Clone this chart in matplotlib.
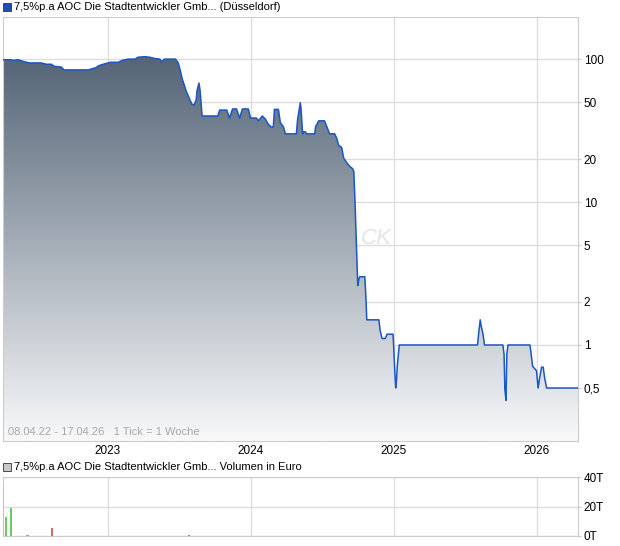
import matplotlib
matplotlib.use("Agg")
import matplotlib.pyplot as plt
import matplotlib.dates as mdates
import numpy as np
import pandas as pd
from matplotlib.colors import LinearSegmentedColormap
from matplotlib.patches import Rectangle
from matplotlib.ticker import FixedLocator, FixedFormatter, FuncFormatter

# price (weekly, Duesseldorf)
price_dates = [
    "2022-04-08", "2022-04-26", "2022-05-06", "2022-05-16", "2022-05-26", "2022-06-07",
    "2022-06-15", "2022-07-15", "2022-07-28", "2022-08-10", "2022-08-17", "2022-09-04",
    "2022-09-11", "2022-11-13", "2022-11-18", "2022-12-01", "2022-12-09", "2022-12-26",
    "2023-01-08", "2023-01-28", "2023-02-07", "2023-02-22", "2023-03-12", "2023-03-19",
    "2023-04-06", "2023-04-18", "2023-05-01", "2023-05-14", "2023-05-19", "2023-05-26",
    "2023-06-23", "2023-06-30", "2023-07-05", "2023-07-10", "2023-07-16", "2023-07-21",
    "2023-07-26", "2023-07-31", "2023-08-05", "2023-08-10", "2023-08-15", "2023-08-17",
    "2023-08-22", "2023-08-25", "2023-08-30", "2023-10-09", "2023-10-14", "2023-11-01",
    "2023-11-08", "2023-11-16", "2023-11-26", "2023-12-04", "2023-12-11", "2023-12-26",
    "2024-01-01", "2024-01-16", "2024-01-21", "2024-01-31", "2024-02-08", "2024-02-15",
    "2024-02-23", "2024-02-28", "2024-03-02", "2024-03-12", "2024-03-17", "2024-03-25",
    "2024-03-30", "2024-04-27", "2024-04-30", "2024-05-07", "2024-05-09", "2024-05-13",
    "2024-05-15", "2024-05-20", "2024-05-23", "2024-06-13", "2024-06-15", "2024-06-23",
    "2024-07-08", "2024-07-14", "2024-07-21", "2024-08-03", "2024-08-08", "2024-08-13",
    "2024-08-21", "2024-08-26", "2024-09-03", "2024-09-11", "2024-09-18", "2024-09-21",
    "2024-09-24", "2024-09-29", "2024-10-01", "2024-10-04", "2024-10-06", "2024-10-19",
    "2024-10-22", "2024-10-24", "2024-11-24", "2024-11-27", "2024-12-02", "2024-12-10",
    "2024-12-15", "2024-12-30", "2025-01-01", "2025-01-04", "2025-01-06", "2025-01-08",
    "2025-01-10", "2025-01-13", "2025-01-15", "2025-08-03", "2025-08-06", "2025-08-10",
    "2025-08-13", "2025-08-17", "2025-08-21", "2025-10-07", "2025-10-10", "2025-10-12",
    "2025-10-15", "2025-10-17", "2025-10-20", "2025-12-15", "2025-12-17", "2025-12-22",
    "2026-01-01", "2026-01-05", "2026-01-09", "2026-01-14", "2026-01-18", "2026-01-22",
    "2026-01-27", "2026-04-17",
]
prices = [
    99, 99, 98, 99, 97, 95,
    94, 94, 92, 92, 89, 88,
    84, 84, 85, 87, 90, 93,
    95, 95, 98, 100, 100, 103,
    104, 103, 101, 100, 96, 100,
    100, 94, 84, 73, 65, 59,
    55, 51, 48, 48, 52, 60,
    68, 60, 40, 40, 44, 44,
    38.7, 44.8, 44.8, 38.7, 44.8, 44.8,
    38.7, 38.7, 37, 40, 38, 35,
    33.5, 33.5, 44.5, 44.5, 36, 33.5,
    30, 30, 37.5, 49.5, 45, 30,
    31, 31, 30, 30, 33.6, 37,
    37, 33.6, 30, 30, 28, 25,
    24, 20.3, 18.8, 17.7, 17.1, 16.3,
    9.9, 3.9, 2.6, 2.9, 3.0, 3.0,
    2.1, 1.5, 1.5, 1.27, 1.11, 1.11,
    1.19, 1.19, 0.95, 0.62, 0.5, 0.57,
    0.71, 0.88, 1.0, 1.0, 1.2, 1.5,
    1.34, 1.2, 1.0, 1.0, 0.86, 0.49,
    0.41, 0.86, 1.0, 1.0, 0.92, 0.71,
    0.66, 0.5, 0.59, 0.7, 0.7, 0.58,
    0.5, 0.5,
]

# volume in Euro
vol_dates = ["2022-04-08", "2022-04-15", "2022-04-29", "2022-06-10", "2022-08-12", "2023-07-28"]
volumes = [33000, 12600, 19200, 700, 5600, 1000]
vol_colors = ["#c0c0c0", "#66cc66", "#66cc66", "#66cc66", "#dd6666", "#dd6666"]

yticks = [0.5, 1, 2, 5, 10, 20, 50, 100]
ytick_labels = ["0,5", "1", "2", "5", "10", "20", "50", "100"]
years = ["2023", "2024", "2025", "2026"]

name = "7,5%p.a AOC Die Stadtentwickler Gmb..."

plt.rcParams['font.family'] = ['Liberation Sans', 'DejaVu Sans']
plt.rcParams['font.size'] = 8

d = pd.to_datetime(price_dates)
p = np.array(prices)
vd = pd.to_datetime(vol_dates)
year_pos = pd.to_datetime([y + "-01-01" for y in years])
x0, x1 = pd.Timestamp("2022-04-08"), pd.Timestamp("2026-04-17")

W, H = 620, 546
fig = plt.figure(figsize=(W / 100, H / 100), dpi=100)
ax = fig.add_axes([3 / W, 1 - 441 / H, 575 / W, 424 / H])
ax2 = fig.add_axes([3 / W, 1 - 536 / H, 575 / W, 59 / H])

grid_c = "#dddddd"
for a in (ax, ax2):
    a.set_xlim(x0, x1)
    for s in a.spines.values():
        s.set_color("#cccccc")
        s.set_linewidth(0.8)
    a.yaxis.tick_right()
    a.tick_params(axis='y', length=2, color="#cccccc", pad=2, labelsize=8.5)
    a.set_xticks(year_pos)
    a.grid(True, color=grid_c, linewidth=1)
    a.set_axisbelow(True)

# main price panel
ax.set_yscale('log')
ax.set_ylim(0.213, 197)
ax.yaxis.set_major_locator(FixedLocator(yticks))
ax.yaxis.set_major_formatter(FixedFormatter(ytick_labels))
ax.yaxis.set_minor_locator(FixedLocator([]))
ax.xaxis.set_major_formatter(mdates.DateFormatter("%Y"))
ax.tick_params(axis='x', length=0, pad=3, labelsize=8.5)

ax.text(0.622, 0.465, "CK", transform=ax.transAxes, fontsize=16, fontstyle='italic',
        color="#e8e3de", zorder=1)

fill = ax.fill_between(d, p, 1e-3, color='none', linewidth=0, zorder=2)
cmap = LinearSegmentedColormap.from_list("g", ["#f8f9fa", "#44566a"])
grad = np.linspace(0, 1, 256).reshape(-1, 1)
im = ax.imshow(grad, cmap=cmap, aspect='auto', extent=[0, 1, 0, 1],
               transform=ax.transAxes, origin='lower', zorder=2)
im.set_clip_path(fill.get_paths()[0], ax.transData)
ax.plot(d, p, color="#1a56c4", linewidth=1.1, zorder=3)
ax.set_ylim(0.213, 197)
ax.set_xlim(x0, x1)

ax.text(0.009, 0.015, "08.04.22 - 17.04.26   1 Tick = 1 Woche", transform=ax.transAxes,
        color="#a8a8a8", fontsize=8, zorder=4)

# volume panel
ax2.bar(vd, volumes, width=6, color=vol_colors, zorder=3)
ax2.set_ylim(0, 40000)
ax2.set_yticks([0, 20000, 40000])
ax2.yaxis.set_major_formatter(FuncFormatter(lambda v, pos: f"{v / 1000:.0f}T"))
ax2.tick_params(axis='x', length=0, labelbottom=False)

# headers
fig.add_artist(Rectangle((3 / W, 1 - 11 / H), 8 / W, 8 / H, transform=fig.transFigure,
                         facecolor="#1d4fb5", edgecolor="#333333", linewidth=0.6))
fig.text(14 / W, 1 - 7 / H, name + " (Düsseldorf)", va='center', fontsize=8)
fig.add_artist(Rectangle((3 / W, 1 - 471 / H), 8 / W, 8 / H, transform=fig.transFigure,
                         facecolor="#c8c8c8", edgecolor="#333333", linewidth=0.6))
fig.text(14 / W, 1 - 467 / H, name + " Volumen in Euro", va='center', fontsize=8)

fig.savefig("out.png", dpi=100)
